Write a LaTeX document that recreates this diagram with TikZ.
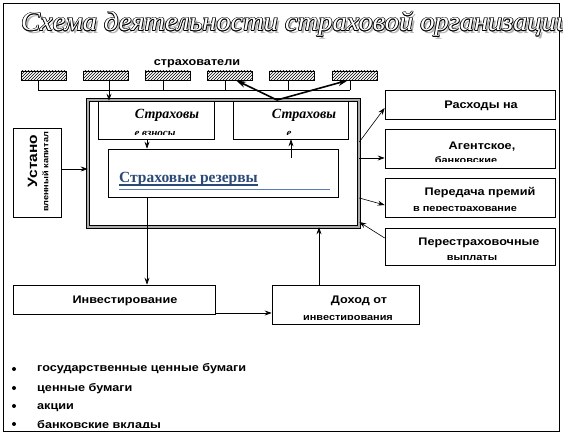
\documentclass[tikz,border=0pt]{standalone}
\usepackage{fontspec}
\usepackage{graphicx}
\setmainfont{Liberation Sans}
\newfontfamily\wsans[FakeStretch=1.15]{Liberation Sans}
\newfontfamily\tnr{Liberation Serif}
\usetikzlibrary{patterns,arrows.meta,fit}
\definecolor{resblue}{HTML}{2B4A78}
\definecolor{resline}{HTML}{5B7DB1}
\newcommand{\TitleText}{\resizebox{549pt}{\height}{Схема деятельности страховой организации}}
\tikzset{
 box/.style={draw=black, line width=0.7pt, fill=white, inner sep=0pt},
 bigbox/.style={draw=black, line width=0.6pt, double=gray!65, double distance=2pt, inner sep=0pt},
 hbox/.style={draw=black, line width=0.6pt, pattern=north east lines, inner sep=0pt, minimum width=45pt, minimum height=9pt},
 lbl/.style={font=\wsans\bfseries\fontsize{11}{12}\selectfont, inner sep=0pt},
 small/.style={font=\wsans\bfseries\fontsize{9.5}{10}\selectfont, inner sep=0pt, anchor=base},
 ital/.style={font=\tnr\bfseries\itshape\fontsize{14}{15}\selectfont, inner sep=0pt},
 italsmall/.style={font=\tnr\bfseries\itshape\fontsize{11}{12}\selectfont, inner sep=0pt, anchor=base},
 ttl/.style={font=\tnr\itshape\fontsize{27}{27}\selectfont, inner sep=0pt, anchor=base west},
 arr/.style={-{Stealth[length=7pt,width=5pt,inset=2.5pt]}, line width=0.6pt},
 thickarr/.style={-{Stealth[length=10pt,width=6pt,inset=3pt]}, line width=1.6pt},
 conn/.style={line width=0.6pt},
 bullet/.style={circle, fill=black, inner sep=0pt, minimum size=4pt},
}
\begin{document}
\begin{tikzpicture}[x=1pt,y=-1pt]
\useasboundingbox (0,0) rectangle (563,435);
% outer frame
\node[box, fit={(3,3) (559,431)}] (frame) {};
% title
\begin{scope}
\clip (3,3) rectangle (563,60);
\node[ttl, text=gray!60] (tsh) at (23.5,33.5) {\TitleText};
\foreach \dx/\dy [count=\k] in {-0.7/0,0.7/0,0/-0.7,0/0.7,-0.5/-0.5,0.5/0.5,-0.5/0.5,0.5/-0.5}
  \node[ttl, text=black] (to\k) at (21+\dx,31+\dy) {\TitleText};
\node[ttl, text=white] (ttl) at (21,31) {\TitleText};
\end{scope}
% insured boxes
\node[lbl] (tstr) at (197,64) {страхователи};
\node[hbox] (h1) at (43.5,75.5) {};
\node[hbox] (h2) at (105.5,75.5) {};
\node[hbox] (h3) at (167.5,75.5) {};
\node[hbox] (h4) at (229.5,75.5) {};
\node[hbox] (h5) at (291.5,75.5) {};
\node[hbox] (h6) at (354.5,75.5) {};
% main boxes
\node[bigbox, fit={(88,100) (359,227)}] (mb) {};
\node[box, fit={(98,101) (214,139)}] (vz) {};
\node[box, fit={(233,101) (348,139)}] (sv) {};
\node[box, fit={(108,149) (338,197)}] (rz) {};
\node[box, fit={(13,128) (61,217)}] (ust) {};
\node[box, fit={(385,90) (555,119)}] (r1) {};
\node[box, fit={(385,129) (555,168)}] (r2) {};
\node[box, fit={(385,178) (555,217)}] (r3) {};
\node[box, fit={(385,228) (555,265)}] (r4) {};
\node[box, fit={(13,285) (215,314)}] (inv) {};
\node[box, fit={(272,285) (419,324)}] (dox) {};
% texts
\node[ital] (tvz) at (167,115) {Страховы};
\node[ital] (tsv) at (304,115) {Страховы};
\begin{scope}
\clip (98,101) rectangle (348,135);
\node[italsmall] (tvz2) at (155,136.5) {е взносы};
\node[italsmall] (tsv2) at (289,136.5) {е};
\end{scope}
\node[font=\tnr\bfseries\fontsize{15.5}{16}\selectfont, text=resblue, inner sep=0pt, anchor=base west] (trz) at (119,183) {Страховые резервы};
\draw[resblue, line width=1.1pt] ([yshift=-2pt]trz.base west) -- ([yshift=-2pt]trz.base east);
\draw[resline, line width=0.8pt] (119,189) -- (330,189);
\node[font=\wsans\bfseries\fontsize{13.5}{14}\selectfont, rotate=90, inner sep=0pt] (tust) at (32.5,161) {Устано};
\node[font=\wsans\bfseries\fontsize{8}{9}\selectfont, rotate=90, inner sep=0pt] (tust2) at (45.5,172) {вленный капитал};
\node[lbl] (tr1) at (481,106) {Расходы на};
\node[lbl] (tr2) at (482,147) {Агентское,};
\node[lbl] (tr3) at (480,193) {Передача премий};
\node[lbl] (tr4) at (479,243) {Перестраховочные};
\node[small] (tr4b) at (472,261) {выплаты};
\node[lbl] (tinv) at (125,301) {Инвестирование};
\node[lbl] (tdox) at (359,301) {Доход от};
\begin{scope}
\clip (385,129) rectangle (555,162);
\node[small] (tr2b) at (466,163.5) {банковские};
\end{scope}
\begin{scope}
\clip (385,178) rectangle (555,210.5);
\node[small] (tr3b) at (465,212) {в перестрахование};
\end{scope}
\begin{scope}
\clip (272,285) rectangle (419,319.5);
\node[small] (tdox2) at (348,321) {инвестирования};
\end{scope}
% bullets
\node[bullet] (b1) at (14,369) {};
\node[bullet] (b2) at (14,388) {};
\node[bullet] (b3) at (14,406) {};
\node[bullet] (b4) at (14,424) {};
\node[lbl, anchor=base west] (tb1) at (37,372) {государственные ценные бумаги};
\node[lbl, anchor=base west] (tb2) at (37,392) {ценные бумаги};
\node[lbl, anchor=base west] (tb3) at (37,409.5) {акции};
\begin{scope}
\clip (30,415) rectangle (300,427.5);
\node[lbl, anchor=base west] (tb4) at (37,429) {банковские вклады};
\end{scope}
% bus of insured
\coordinate (d1) at (38,90);
\coordinate (d2) at (109,90);
\coordinate (d3) at (163,90);
\coordinate (d4) at (225,90);
\coordinate (d5) at (288,90);
\coordinate (d6) at (350,90);
\draw[conn] (d1) -- (d6);
\draw[conn] (d1) -- (d1 |- h1.south);
\draw[conn] (d3) -- (d3 |- h3.south);
\draw[conn] (d4) -- (d4 |- h4.south);
\draw[conn] (d5) -- (d5 |- h5.south);
\draw[conn] (d6) -- (d6 |- h6.south);
\draw[arr] (d2 |- h2.south) -- (d2 |- vz.north);
% payouts to insured
\coordinate (fork) at (277,100);
\draw[thickarr] (fork) -- ([xshift=6.5pt]h4.south);
\draw[thickarr] (fork) -- ([xshift=-6.5pt]h6.south);
% internal flows
\coordinate (xa) at (147,0);
\coordinate (xb) at (291,0);
\coordinate (xc) at (319,0);
\draw[arr] (xa |- vz.south) -- (xa |- rz.north);
\draw[arr] ([yshift=-9pt]xb |- rz.north) -- (xb |- sv.south);
\draw[arr] (xa |- rz.south) -- (xa |- inv.north);
\draw[arr] (inv.east |- 0,313) -- (dox.west |- 0,313);
\draw[arr] (xc |- dox.north) -- (xc |- mb.south);
\draw[arr] (ust.east |- 0,169) -- (mb.west |- 0,169);
% right side
\draw[arr] (mb.east |- 0,142) -- (r1.west |- 0,108);
\draw[arr] (mb.east |- 0,158) -- (r2.west |- 0,158);
\draw[arr] (mb.east |- 0,198) -- (r3.west |- 0,205);
\draw[arr] (r4.west |- 0,238) -- (mb.east |- 0,222);
\end{tikzpicture}
\end{document}
